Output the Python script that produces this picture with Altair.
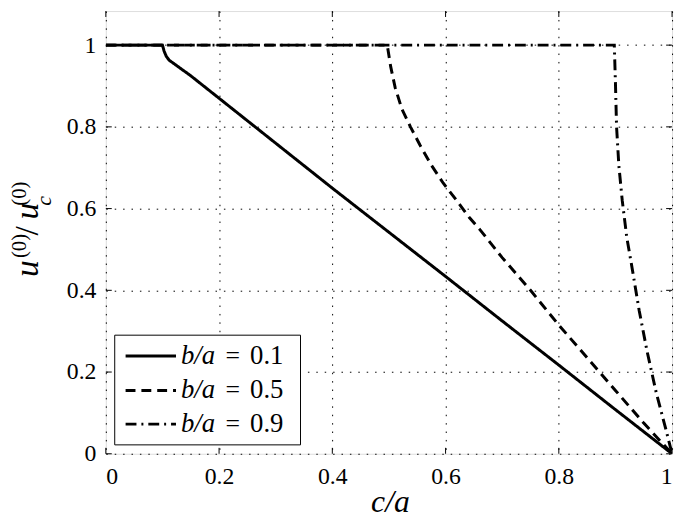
import altair as alt
import pandas as pd

# ---- data ----
x_b01 = [0.0, 0.1, 0.103, 0.107, 0.112, 0.12, 0.15, 0.2, 0.3, 0.4, 0.5, 0.6, 0.7, 0.8, 0.9, 1.0]
y_b01 = [1.0, 1.0, 0.985, 0.972, 0.963, 0.955, 0.925, 0.87, 0.76, 0.65, 0.542, 0.434, 0.325, 0.217, 0.108, 0.0]

x_b05 = [0.0, 0.497, 0.503, 0.511, 0.523, 0.538, 0.555, 0.575, 0.596, 0.619, 0.642, 0.661,
         0.7, 0.75, 0.8, 0.85, 0.9, 0.95, 1.0]
y_b05 = [1.0, 1.0, 0.948, 0.896, 0.843, 0.8, 0.755, 0.706, 0.662, 0.621, 0.578, 0.548,
         0.48, 0.4, 0.315, 0.235, 0.155, 0.075, 0.0]

x_b09 = [0.0, 0.898, 0.9, 0.902, 0.906, 0.912, 0.92, 0.93, 0.942, 0.956, 0.972, 0.989, 1.0]
y_b09 = [1.0, 1.0, 0.908, 0.8, 0.706, 0.62, 0.53, 0.45, 0.35, 0.25, 0.15, 0.06, 0.0]

series_names = ["b/a = 0.1", "b/a = 0.5", "b/a = 0.9"]
tick_values = [0, 0.2, 0.4, 0.6, 0.8, 1.0]

rows = []
for name, xs, ys in zip(series_names, [x_b01, x_b05, x_b09], [y_b01, y_b05, y_b09]):
    for i, (xv, yv) in enumerate(zip(xs, ys)):
        rows.append({"series": name, "x": xv, "y": yv, "order": i})
df = pd.DataFrame(rows)
ticks_df = pd.DataFrame({"t": tick_values})

W, H = 573, 448
YMAX = 1.0834
FONT = "Times New Roman, Liberation Serif, serif"

xscale = alt.Scale(domain=[0, 1], nice=False, zero=False)
yscale = alt.Scale(domain=[0, YMAX], nice=False, zero=False)

dash_range = [[1, 0], [10, 6], [11, 5, 2, 5]]

lines = alt.Chart(df).mark_line(color="black", strokeWidth=3, clip=True).encode(
    x=alt.X("x:Q", scale=xscale,
            axis=alt.Axis(values=tick_values, format="~g", title=None, grid=True,
                          ticks=False, tickSize=0, domain=False, labelPadding=11,
                          labelFont=FONT, labelFontSize=24, labelColor="black",
                          gridColor="black", gridDash=[1.5, 7], gridWidth=1, gridOpacity=1)),
    y=alt.Y("y:Q", scale=yscale,
            axis=alt.Axis(values=tick_values, format="~g", title=None, grid=True,
                          ticks=False, tickSize=0, domain=False, labelPadding=10,
                          labelFont=FONT, labelFontSize=24, labelColor="black",
                          gridColor="black", gridDash=[1.5, 7], gridWidth=1, gridOpacity=1)),
    strokeDash=alt.StrokeDash("series:N", scale=alt.Scale(domain=series_names, range=dash_range),
                              legend=None),
    detail="series:N",
    order="order:Q",
)

# inward ticks on four sides
tick_bottom = alt.Chart(ticks_df).mark_rule(color="black", strokeWidth=1).encode(
    x=alt.X("t:Q", scale=xscale), y=alt.value(H), y2=alt.value(H - 6))
tick_top = alt.Chart(ticks_df).mark_rule(color="black", strokeWidth=1).encode(
    x=alt.X("t:Q", scale=xscale), y=alt.value(0), y2=alt.value(6))
tick_left = alt.Chart(ticks_df).mark_rule(color="black", strokeWidth=1).encode(
    y=alt.Y("t:Q", scale=yscale), x=alt.value(0), x2=alt.value(6))
tick_right = alt.Chart(ticks_df).mark_rule(color="black", strokeWidth=1).encode(
    y=alt.Y("t:Q", scale=yscale), x=alt.value(W), x2=alt.value(W - 6))

one = pd.DataFrame({"a": [0]})

def txt(s, x, y, size, italic=False, angle=0, align="left", baseline="alphabetic"):
    kw = dict(text=s, font=FONT, fontSize=size, color="black", align=align, baseline=baseline)
    if italic:
        kw["fontStyle"] = "italic"
    if angle:
        kw["angle"] = angle
    return alt.Chart(one).mark_text(**kw).encode(x=alt.value(x), y=alt.value(y))

# x title
xtitle = txt("c/a", 288, 507, 32, italic=True, align="center")

# y title pieces (rotated)
DX = 6
yt = [
    txt("u", -75 + DX, 269, 34, italic=True, angle=270),
    txt("(0)", -87 + DX, 250, 21, angle=270),
    txt("/", -75 + DX, 227, 34, angle=270),
    txt("u", -75 + DX, 211, 34, italic=True, angle=270),
    txt("c", -61 + DX, 197, 22, italic=True, angle=270),
    txt("(0)", -87 + DX, 197, 21, angle=270),
]

# legend
legend_box = alt.Chart(one).mark_rect(fill="white", stroke="black", strokeWidth=1).encode(
    x=alt.value(9), x2=alt.value(197), y=alt.value(328), y2=alt.value(439))
legend_rows_y = [349, 384, 418]
legend_vals = ["0.1", "0.5", "0.9"]
legend_layers = [legend_box]
for ry, dash, val in zip(legend_rows_y, dash_range, legend_vals):
    legend_layers.append(
        alt.Chart(one).mark_rule(color="black", strokeWidth=3, strokeDash=dash).encode(
            x=alt.value(20), x2=alt.value(71), y=alt.value(ry)))
    legend_layers.append(txt("b/a", 76, ry + 8, 27, italic=True))
    legend_layers.append(txt("=", 121, ry + 8, 26))
    legend_layers.append(txt(val, 146, ry + 8, 27))

chart = alt.layer(
    lines, tick_bottom, tick_top, tick_left, tick_right, xtitle, *yt, *legend_layers
).properties(
    width=W, height=H,
    autosize=alt.AutoSizeParams(type="none"),
    padding={"left": 99, "top": 0, "right": 5, "bottom": 70},
).configure_view(stroke="black", strokeWidth=1).configure(background="white")

chart.save("out.html", embed_options={"renderer": "svg", "actions": False})
